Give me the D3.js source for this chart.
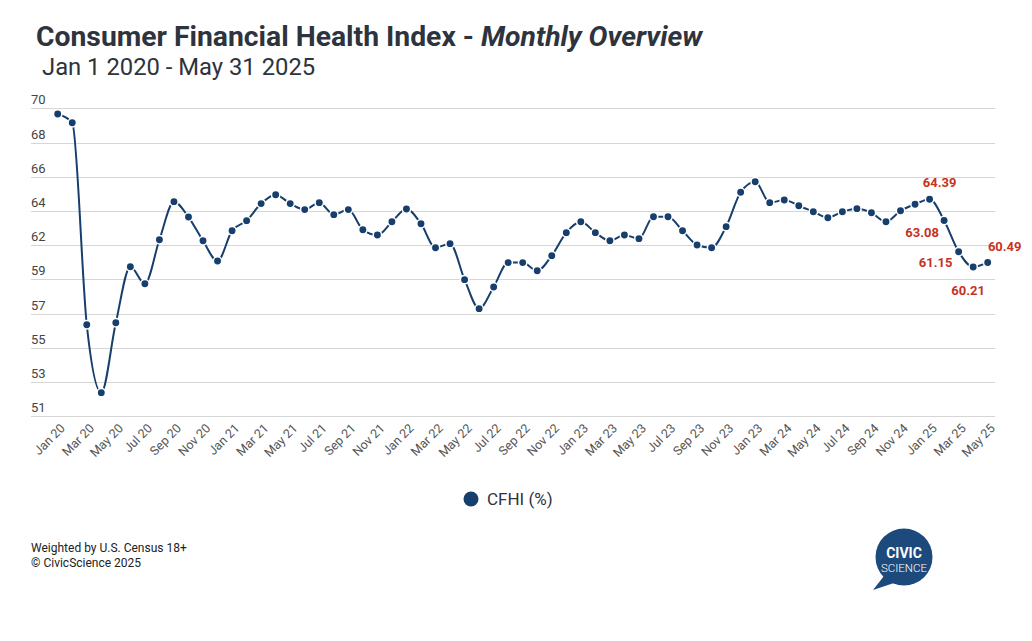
<!DOCTYPE html>
<html>
<head>
<meta charset="utf-8">
<script src="https://cdn.jsdelivr.net/npm/d3@7.9.0/dist/d3.min.js"></script>
<style>
  body { margin: 0; background: #fff; }
  svg { display: block; font-family: Roboto, "Noto Sans", sans-serif; }
</style>
</head>
<body>
<svg id="chart" width="1032" height="641"></svg>
<script>
// CFHI monthly values, Jan 2020 - May 2025
const cfhi = [
  69.65, 69.11, 56.65, 52.46, 56.77, 60.23, 59.18, 61.89, 64.24, 63.29, 61.83, 60.58,
  62.45, 63.07, 64.12, 64.67, 64.12, 63.75, 64.18, 63.44, 63.75, 62.51, 62.18, 63.00,
  63.79, 62.88, 61.40, 61.65, 59.43, 57.64, 58.98, 60.48, 60.48, 59.98, 60.91, 62.33,
  63.00, 62.33, 61.83, 62.18, 61.96, 63.31, 63.31, 62.45, 61.57, 61.40, 62.70, 64.82,
  65.47, 64.18, 64.34, 63.99, 63.62, 63.25, 63.62, 63.81, 63.56, 63.00, 63.68, 64.08,
  64.39, 63.08, 61.15, 60.21, 60.49
];
// labelled points (index into cfhi)
const labelled = [60, 61, 62, 63, 64];
// x axis labels, every second month (as printed on the chart)
const xTickLabels = [
  'Jan 20', 'Mar 20', 'May 20', 'Jul 20', 'Sep 20', 'Nov 20',
  'Jan 21', 'Mar 21', 'May 21', 'Jul 21', 'Sep 21', 'Nov 21',
  'Jan 22', 'Mar 22', 'May 22', 'Jul 22', 'Sep 22', 'Nov 22',
  'Jan 23', 'Mar 23', 'May 23', 'Jul 23', 'Sep 23', 'Nov 23',
  'Jan 23', 'Mar 24', 'May 24', 'Jul 24', 'Sep 24', 'Nov 24',
  'Jan 25', 'Mar 25', 'May 25'
];
const yTickLabels = ['51', '53', '55', '57', '59', '62', '64', '66', '68', '70'];

const navy = '#173f6d';
const red = '#c8321e';
const textCol = '#2e333d';

const svg = d3.select('#chart');

// Title
const title = svg.append('text')
  .attr('x', 36).attr('y', 46)
  .attr('font-size', 28.3).attr('font-weight', 700)
  .attr('fill', textCol);
title.append('tspan').text('Consumer Financial Health Index - ');
title.append('tspan').attr('font-style', 'italic').text('Monthly Overview');

svg.append('text')
  .attr('x', 42).attr('y', 75)
  .attr('font-size', 23.8)
  .attr('fill', textCol)
  .text('Jan 1 2020 - May 31 2025');

// Scales
const x = d3.scaleLinear().domain([0, cfhi.length - 1]).range([57.7, 987.7]);
const y = d3.scaleLinear().domain([51, 70]).range([416.3, 108.3]);
const yTicks = yTickLabels.map((d, i) => 51 + i * (70 - 51) / (yTickLabels.length - 1));

// Gridlines + y labels
const grid = svg.append('g');
yTicks.forEach((t, i) => {
  grid.append('line')
    .attr('x1', 31).attr('x2', 995)
    .attr('y1', Math.round(y(t)) + 0.5).attr('y2', Math.round(y(t)) + 0.5)
    .attr('stroke', '#d6d6d6').attr('stroke-width', 1);
  grid.append('text')
    .attr('x', 31).attr('y', y(t) - 4)
    .attr('font-size', 13).attr('fill', '#444')
    .text(yTickLabels[i]);
});

// x labels, rotated
const xg = svg.append('g');
xTickLabels.forEach((lab, i) => {
  xg.append('text')
    .attr('transform', `translate(${x(i * 2) + 5},${426}) rotate(-45)`)
    .attr('text-anchor', 'end')
    .attr('dy', '0.35em')
    .attr('font-size', 12.5).attr('fill', '#555')
    .text(lab);
});

// Line
const line = d3.line()
  .x((d, i) => x(i))
  .y(d => y(d))
  .curve(d3.curveMonotoneX);

svg.append('path')
  .datum(cfhi)
  .attr('d', line)
  .attr('fill', 'none')
  .attr('stroke', navy)
  .attr('stroke-width', 2);

svg.append('g').selectAll('circle')
  .data(cfhi)
  .join('circle')
  .attr('cx', (d, i) => x(i))
  .attr('cy', d => y(d))
  .attr('r', 4.2)
  .attr('fill', navy)
  .attr('stroke', '#fff')
  .attr('stroke-width', 1.5);

// Data labels (offsets from the point, to keep them apart)
const labelOffsets = [[10, -12], [-22, 17], [-23, 15], [-5, 28], [17, -11]];
labelled.forEach((idx, k) => {
  svg.append('text')
    .attr('x', x(idx) + labelOffsets[k][0])
    .attr('y', y(cfhi[idx]) + labelOffsets[k][1])
    .attr('text-anchor', 'middle')
    .attr('font-size', 13).attr('font-weight', 700)
    .attr('fill', red)
    .text(cfhi[idx].toFixed(2));
});

// Legend
svg.append('circle').attr('cx', 471).attr('cy', 499).attr('r', 7.5).attr('fill', navy);
svg.append('text')
  .attr('x', 487).attr('y', 505)
  .attr('font-size', 17).attr('fill', textCol)
  .text('CFHI (%)');

// Footer
svg.append('text').attr('x', 31).attr('y', 552)
  .attr('font-size', 12).attr('fill', '#222')
  .text('Weighted by U.S. Census 18+');
svg.append('text').attr('x', 31).attr('y', 567)
  .attr('font-size', 12).attr('fill', '#222')
  .text('© CivicScience 2025');

// Logo
const logo = svg.append('g');
const logoBlue = '#1c4a7c';
logo.append('path')
  .attr('d', 'M884,576 L873,590 L894,583 Z')
  .attr('fill', logoBlue);
logo.append('circle').attr('cx', 904).attr('cy', 557).attr('r', 28.5).attr('fill', logoBlue);
logo.append('text').attr('x', 904).attr('y', 558)
  .attr('text-anchor', 'middle').attr('font-size', 14).attr('font-weight', 700)
  .attr('fill', '#fff').text('CIVIC');
logo.append('text').attr('x', 904).attr('y', 572)
  .attr('text-anchor', 'middle').attr('font-size', 11.5).attr('font-weight', 300)
  .attr('fill', '#fff').text('SCIENCE');
</script>
</body>
</html>
